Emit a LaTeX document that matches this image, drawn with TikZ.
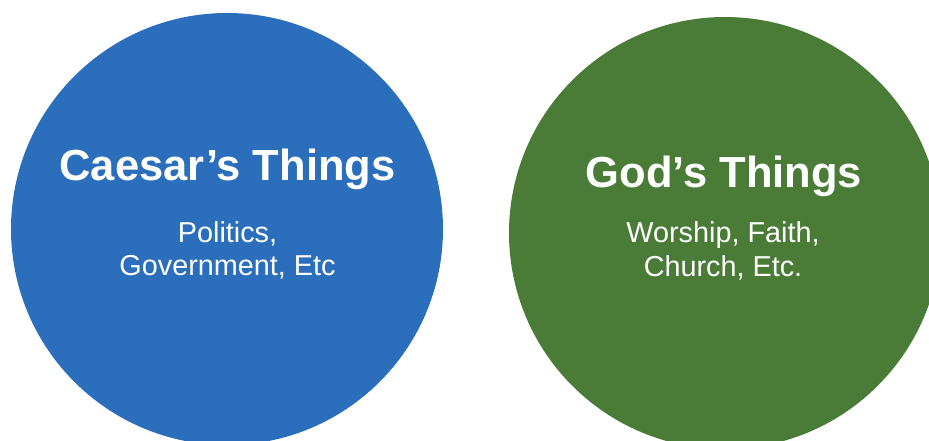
\documentclass[tikz,border=0pt]{standalone}
\usepackage{fontspec}
\setmainfont{Liberation Sans}
\definecolor{caesarblue}{RGB}{42,110,188}
\definecolor{godgreen}{RGB}{74,124,56}
\begin{document}
\begin{tikzpicture}[x=1pt,y=-1pt,
  bigcirc/.style={circle,inner sep=0pt,minimum size=432pt},
  titletext/.style={text=white,font=\fontsize{43.5}{48}\selectfont\bfseries,anchor=base,inner sep=0pt},
  subtext/.style={text=white,font=\fontsize{28.8}{34}\selectfont,anchor=base,inner sep=0pt}]
\useasboundingbox (0,0) rectangle (929,440);
\clip (0,0) rectangle (929,440);
\node[bigcirc,fill=caesarblue] (caesar) at (227,229) {};
\node[bigcirc,fill=godgreen] (god) at (725,233) {};
\node[titletext] (ctitle) at (227.5,180) {Caesar’s Things};
\node[subtext] (csub1) at (227.5,242) {Politics,};
\node[subtext] (csub2) at (227.5,275.5) {Government, Etc};
\node[titletext] (gtitle) at (724,187) {God’s Things};
\node[subtext] (gsub1) at (723,242) {Worship, Faith,};
\node[subtext] (gsub2) at (723,276.5) {Church, Etc.};
\end{tikzpicture}
\end{document}
